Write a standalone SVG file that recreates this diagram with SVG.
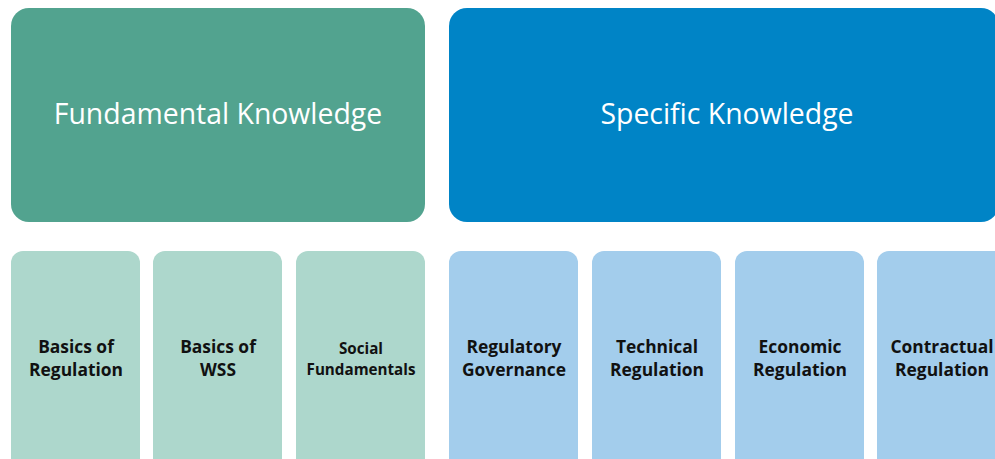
<svg xmlns="http://www.w3.org/2000/svg" width="995" height="459" viewBox="0 0 995 459">
  <style>
    .head-fund { fill: #52A38F; }
    .head-spec { fill: #0084C6; }
    .sub-fund { fill: #ADD7CC; }
    .sub-spec { fill: #A3CDEC; }
    .head-text { font-family: "Open Sans", "Noto Sans", sans-serif; font-size: 28.4px; fill: #FFFFFF; text-anchor: middle; }
    .sub-text { font-family: "Open Sans", "Noto Sans", sans-serif; font-size: 17.4px; font-weight: bold; fill: #111111; text-anchor: middle; }
    .sub-text-sm { font-size: 15.2px; }
  </style>
  <rect x="0" y="0" width="995" height="459" fill="#FFFFFF"/>

  <!-- top-level categories -->
  <g id="fundamental-knowledge">
    <rect class="head-fund" x="11" y="8" width="414" height="214" rx="18"/>
    <text class="head-text" x="218" y="124">Fundamental Knowledge</text>
  </g>
  <g id="specific-knowledge">
    <rect class="head-spec" x="449" y="8" width="550" height="214" rx="18"/>
    <text class="head-text" x="727" y="124">Specific Knowledge</text>
  </g>

  <!-- fundamental sub-topics -->
  <g id="basics-of-regulation">
    <rect class="sub-fund" x="11" y="251" width="129" height="230" rx="12"/>
    <text class="sub-text" x="76" y="353">Basics of</text>
    <text class="sub-text" x="76" y="376">Regulation</text>
  </g>
  <g id="basics-of-wss">
    <rect class="sub-fund" x="153" y="251" width="129" height="230" rx="12"/>
    <text class="sub-text" x="218" y="353">Basics of</text>
    <text class="sub-text" x="218" y="376">WSS</text>
  </g>
  <g id="social-fundamentals">
    <rect class="sub-fund" x="296" y="251" width="129" height="230" rx="12"/>
    <text class="sub-text sub-text-sm" x="361" y="354">Social</text>
    <text class="sub-text sub-text-sm" x="361" y="375">Fundamentals</text>
  </g>

  <!-- specific sub-topics -->
  <g id="regulatory-governance">
    <rect class="sub-spec" x="449" y="251" width="129" height="230" rx="12"/>
    <text class="sub-text" x="514" y="353">Regulatory</text>
    <text class="sub-text" x="514" y="376">Governance</text>
  </g>
  <g id="technical-regulation">
    <rect class="sub-spec" x="592" y="251" width="129" height="230" rx="12"/>
    <text class="sub-text" x="657" y="353">Technical</text>
    <text class="sub-text" x="657" y="376">Regulation</text>
  </g>
  <g id="economic-regulation">
    <rect class="sub-spec" x="735" y="251" width="129" height="230" rx="12"/>
    <text class="sub-text" x="800" y="353">Economic</text>
    <text class="sub-text" x="800" y="376">Regulation</text>
  </g>
  <g id="contractual-regulation">
    <rect class="sub-spec" x="877" y="251" width="129" height="230" rx="12"/>
    <text class="sub-text" x="942" y="353">Contractual</text>
    <text class="sub-text" x="942" y="376">Regulation</text>
  </g>

  <g id="connectors"></g>
</svg>
